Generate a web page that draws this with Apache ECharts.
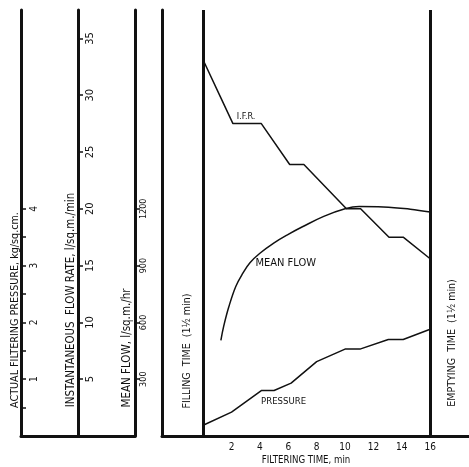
<!DOCTYPE html>
<html>
<head>
<meta charset="utf-8">
<script src="https://cdn.jsdelivr.net/npm/echarts@6/dist/echarts.min.js"></script>
<style>
html,body{margin:0;padding:0;background:#fff;}
#c{width:469px;height:467px;}
</style>
</head>
<body>
<div id="c"></div>
<script>
// ---- data ----
const ifrTime = [0, 1.2, 2.1, 4.1, 6.1, 7.1, 10.1, 11.1, 13.1, 14.1, 16];
const ifrValues = [33.1, 29.9, 27.5, 27.5, 23.9, 23.9, 20.0, 20.0, 17.5, 17.5, 15.6];

const meanFlowTime = [1.25, 1.45, 1.8, 2.3, 2.8, 3.3, 4.0, 5.0, 6.0, 7.0, 8.5, 10.0, 11.0, 12.7, 14.6, 16];
const meanFlowValues = [505, 580, 680, 790, 860, 915, 965, 1020, 1065, 1105, 1160, 1200, 1212, 1210, 1198, 1183];

const pressureTime = [0, 2, 4.1, 5.0, 6.2, 8.0, 10.0, 11.05, 13.05, 14.1, 16];
const pressureValues = [0.19, 0.42, 0.8, 0.8, 0.93, 1.31, 1.53, 1.53, 1.70, 1.70, 1.88];

const pressureTickValues = [0.5, 1, 1.5, 2, 2.5, 3, 3.5, 4];
const pressureLabelValues = [1, 2, 3, 4];
const ifrLabelValues = [5, 10, 15, 20, 25, 30, 35];
const meanFlowLabelValues = [300, 600, 900, 1200];
const timeLabelValues = [2, 4, 6, 8, 10, 12, 14, 16];
const phaseBoundaries = [0, 16];

const curveLabels = [
  { text: 'I.F.R.', t: 3.03, v: 28.1 },
  { text: 'MEAN FLOW', t: 5.82, v: 914 },
  { text: 'PRESSURE', t: 5.67, v: 0.6 }
];

// ---- chart ----
const FONT = '"Liberation Sans Narrow","DejaVu Sans Condensed","Liberation Sans",sans-serif';
const INK = '#111';
const zip = (a, b) => a.map((x, i) => [x, b[i]]);
const plain = v => String(v);

const chart = echarts.init(document.getElementById('c'), null, { renderer: 'canvas' });

const frameLine = { show: true, onZero: false, lineStyle: { color: INK, width: 3 } };

const option = {
  backgroundColor: '#fff',
  animation: false,
  textStyle: { fontFamily: FONT, color: INK },
  grid: [
    { left: 21, top: 10, width: 114, height: 426, outerBoundsMode: 'none' },
    { left: 162, top: 10, width: 310, height: 426, outerBoundsMode: 'none' }
  ],
  xAxis: [
    { gridIndex: 0, type: 'value', min: 0, max: 1, axisLine: frameLine,
      axisTick: { show: false }, axisLabel: { show: false }, splitLine: { show: false } },
    { gridIndex: 1, type: 'value', min: -2.9, max: 18.95, axisLine: frameLine,
      axisTick: { show: true, length: 2, customValues: timeLabelValues, lineStyle: { color: INK, width: 1 } },
      axisLabel: { customValues: timeLabelValues, fontSize: 10, color: INK, margin: 6, fontFamily: FONT, formatter: plain },
      splitLine: { show: false } }
  ],
  yAxis: [
    { gridIndex: 0, type: 'value', position: 'right', offset: -114, min: 0, max: 7.5,
      axisLine: frameLine,
      axisTick: { show: true, length: 5, customValues: pressureTickValues, lineStyle: { color: INK, width: 1.5 } },
      axisLabel: { customValues: pressureLabelValues, rotate: 90, fontSize: 10, color: INK, margin: 8, fontFamily: FONT, formatter: plain },
      splitLine: { show: false } },
    { gridIndex: 0, type: 'value', position: 'right', offset: -57, min: 0, max: 37.5,
      axisLine: frameLine,
      axisTick: { show: true, length: 5, customValues: ifrLabelValues, lineStyle: { color: INK, width: 1.5 } },
      axisLabel: { customValues: ifrLabelValues, rotate: 90, fontSize: 11, color: INK, margin: 7, fontFamily: FONT, formatter: plain },
      splitLine: { show: false } },
    { gridIndex: 0, type: 'value', position: 'right', offset: 0, min: 0, max: 2250,
      axisLine: frameLine,
      axisTick: { show: true, length: 5, customValues: meanFlowLabelValues, lineStyle: { color: INK, width: 1.5 } },
      axisLabel: { customValues: meanFlowLabelValues, rotate: 90, fontSize: 9, color: INK, margin: 4, fontFamily: FONT, formatter: plain },
      splitLine: { show: false } },
    { gridIndex: 1, type: 'value', position: 'left', min: 0, max: 37.5, axisLine: frameLine,
      axisTick: { show: false }, axisLabel: { show: false }, splitLine: { show: false } },
    { gridIndex: 1, type: 'value', min: 0, max: 7.5, show: false },
    { gridIndex: 1, type: 'value', min: 0, max: 2250, show: false }
  ],
  series: [
    { name: 'I.F.R.', type: 'line', xAxisIndex: 1, yAxisIndex: 3, data: zip(ifrTime, ifrValues),
      symbol: 'none', lineStyle: { color: INK, width: 1.5 },
      markLine: { silent: true, symbol: 'none', label: { show: false },
        lineStyle: { color: INK, width: 3, type: 'solid' },
        data: phaseBoundaries.map(v => ({ xAxis: v })) },
      markPoint: { symbol: 'circle', symbolSize: 1, itemStyle: { color: 'rgba(0,0,0,0)' },
        label: { show: true, position: 'inside', color: INK, fontSize: 9, fontFamily: FONT, formatter: curveLabels[0].text },
        data: [{ coord: [curveLabels[0].t, curveLabels[0].v] }] } },
    { name: 'MEAN FLOW', type: 'line', xAxisIndex: 1, yAxisIndex: 5, data: zip(meanFlowTime, meanFlowValues),
      symbol: 'none', smooth: 0.4, lineStyle: { color: INK, width: 1.5 },
      markPoint: { symbol: 'circle', symbolSize: 1, itemStyle: { color: 'rgba(0,0,0,0)' },
        label: { show: true, position: 'inside', color: INK, fontSize: 11, fontFamily: FONT, formatter: curveLabels[1].text },
        data: [{ coord: [curveLabels[1].t, curveLabels[1].v] }] } },
    { name: 'PRESSURE', type: 'line', xAxisIndex: 1, yAxisIndex: 4, data: zip(pressureTime, pressureValues),
      symbol: 'none', lineStyle: { color: INK, width: 1.5 },
      markPoint: { symbol: 'circle', symbolSize: 1, itemStyle: { color: 'rgba(0,0,0,0)' },
        label: { show: true, position: 'inside', color: INK, fontSize: 9.5, fontFamily: FONT, formatter: curveLabels[2].text },
        data: [{ coord: [curveLabels[2].t, curveLabels[2].v] }] } }
  ],
  graphic: [
    { type: 'text', x: 15, y: 310, rotation: Math.PI / 2,
      style: { text: 'ACTUAL FILTERING PRESSURE, kg/sq.cm.', font: '10.7px ' + FONT, fill: INK, align: 'center', verticalAlign: 'middle' } },
    { type: 'text', x: 71, y: 300, rotation: Math.PI / 2,
      style: { text: 'INSTANTANEOUS  FLOW RATE, l/sq.m./min', font: '11.4px ' + FONT, fill: INK, align: 'center', verticalAlign: 'middle' } },
    { type: 'text', x: 127, y: 348, rotation: Math.PI / 2,
      style: { text: 'MEAN FLOW, l/sq.m./hr', font: '11.5px ' + FONT, fill: INK, align: 'center', verticalAlign: 'middle' } },
    { type: 'text', x: 187, y: 351, rotation: Math.PI / 2,
      style: { text: 'FILLING  TIME  (1½ min)', font: '10.6px ' + FONT, fill: INK, align: 'center', verticalAlign: 'middle' } },
    { type: 'text', x: 452, y: 343, rotation: Math.PI / 2,
      style: { text: 'EMPTYING  TIME  (1½ min)', font: '10.6px ' + FONT, fill: INK, align: 'center', verticalAlign: 'middle' } },
    { type: 'text', x: 306, y: 460,
      style: { text: 'FILTERING TIME, min', font: '9.6px ' + FONT, fill: INK, align: 'center', verticalAlign: 'middle' } }
  ]
};
chart.setOption(option);
</script>
</body>
</html>
